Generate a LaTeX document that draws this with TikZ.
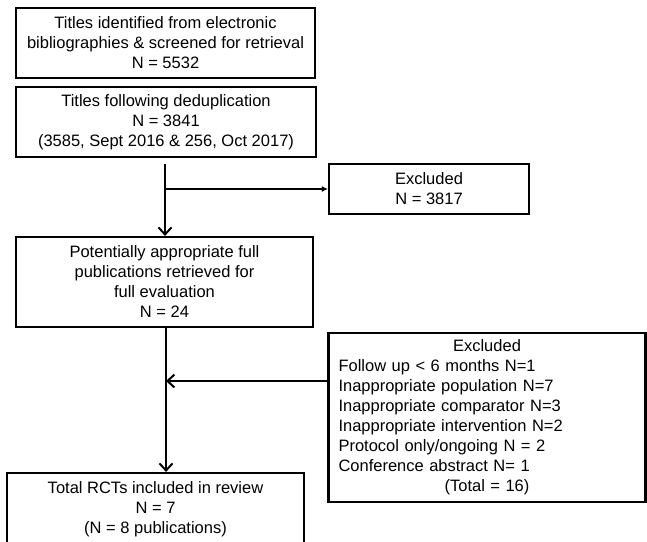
\documentclass[tikz,border=0pt]{standalone}
\usepackage{fontspec}
\setmainfont{Liberation Sans}
\usetikzlibrary{arrows.meta, calc}
\tikzstyle{box} = [draw, line width=2.2, align=center, inner sep=0pt, font=\fontsize{16.5}{20}\selectfont]
\tikzstyle{flow} = [line width=2, -{Straight Barb[length=7pt,width=13pt,line width=2pt]}]
\tikzstyle{side} = [line width=2, -{Latex[length=6pt,width=6pt]}]
\begin{document}
\begin{tikzpicture}[x=1pt, y=-1pt]
		\clip (0,0) rectangle (647,541);
		
		% Boxes
		\node[box, minimum width=299, minimum height=70] (ident) at (165.5,43) {Titles identified from electronic\\ bibliographies \& screened for retrieval\\ N = 5532};
		\node[box, minimum width=300, minimum height=70] (dedup) at (166,122) {Titles following deduplication\\ N = 3841\\ (3585, Sept 2016 \& 256, Oct 2017)};
		\node[box, minimum width=200, minimum height=50] (excl1) at (429,189) {Excluded\\ N = 3817};
		\node[box, minimum width=297, minimum height=90] (full) at (164.5,282) {Potentially appropriate full\\ publications retrieved for\\ full evaluation\\ N = 24};
		\node[box, minimum width=317, minimum height=169, align=left, inner xsep=10pt, text width=297] (excl2) at (487,417.5) {\makebox[\linewidth][c]{Excluded}\\ Follow up < 6 months N=1\\ Inappropriate population N=7\\ Inappropriate comparator N=3\\ Inappropriate intervention N=2\\ Protocol only/ongoing N = 2\\ Conference abstract N= 1\\ \makebox[\linewidth][c]{(Total = 16)}};
		\node[box, minimum width=297, minimum height=72] (incl) at (155.5,509) {Total RCTs included in review\\ N = 7\\ (N = 8 publications)};
		
		% Coordinates
		\coordinate (top) at (165,164);
		\coordinate (fork) at (165,189);
		\coordinate (join) at (166,381);
		
		% Arrows
		\draw[line width=2] (top) -- (fork);
		\draw[flow] (fork) -- (full.north -| fork);
		\draw[side] (fork) -- (excl1.west);
		\draw[flow] (full.south -| join) -- (incl.north -| join);
		\draw[flow] (excl2.west |- join) -- (join);
	\end{tikzpicture}
\end{document}
